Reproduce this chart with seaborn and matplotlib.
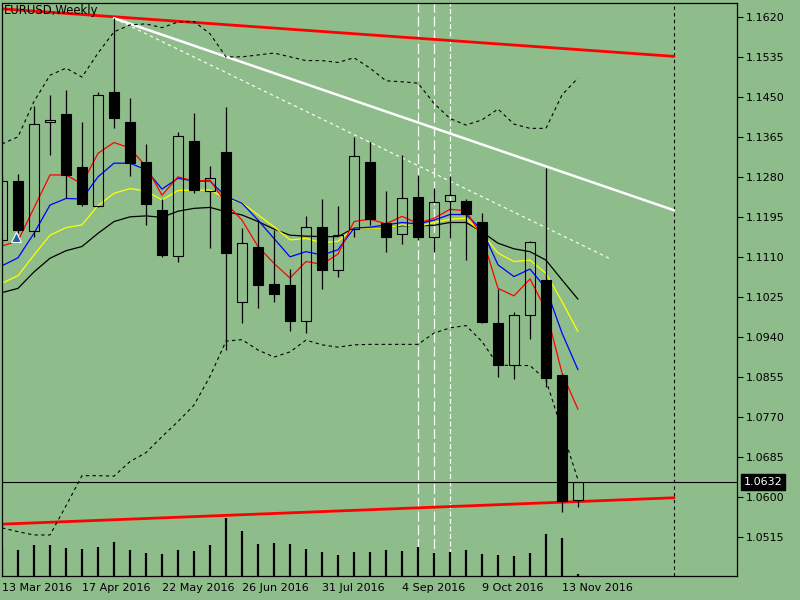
import numpy as np
import pandas as pd
import matplotlib
matplotlib.use("Agg")
import matplotlib.pyplot as plt
import seaborn as sns

BG = '#8fbc8b'

# weekly bars, EURUSD
dates = pd.date_range('2016-03-13', periods=37, freq='W-SUN')
opens = [1.1147, 1.1272, 1.1165, 1.1398, 1.1415, 1.1302, 1.1218, 1.1461, 1.1398, 1.1312,
         1.1211, 1.1113, 1.1357, 1.1251, 1.1334, 1.1014, 1.1132, 1.1053, 1.1051, 1.0974,
         1.1174, 1.1084, 1.1171, 1.1313, 1.1182, 1.1159, 1.1238, 1.1153, 1.1229, 1.1230,
         1.1185, 1.0970, 1.0881, 1.0987, 1.1062, 1.0860, 1.0594]
highs = [1.1283, 1.1287, 1.1432, 1.1455, 1.1466, 1.1398, 1.1461, 1.1618, 1.1449, 1.1350,
         1.1234, 1.1376, 1.1416, 1.1304, 1.1429, 1.1172, 1.1189, 1.1168, 1.1085, 1.1198,
         1.1234, 1.1219, 1.1366, 1.1355, 1.1251, 1.1327, 1.1284, 1.1257, 1.1282, 1.1233,
         1.1204, 1.1043, 1.0994, 1.1145, 1.1299, 1.0862, 1.0632]
lows = [1.1136, 1.1162, 1.1154, 1.1327, 1.1236, 1.1218, 1.1216, 1.1385, 1.1283, 1.1179,
        1.1111, 1.1099, 1.1246, 1.1130, 1.0913, 1.0971, 1.1003, 1.1016, 1.0954, 1.0950,
        1.1043, 1.1069, 1.1153, 1.1178, 1.1122, 1.1138, 1.1147, 1.1121, 1.1152, 1.1105,
        1.0970, 1.0856, 1.0852, 1.0937, 1.0834, 1.0569, 1.0580]
closes = [1.1272, 1.1167, 1.1393, 1.1401, 1.1284, 1.1224, 1.1454, 1.1405, 1.1310, 1.1224,
          1.1115, 1.1367, 1.1253, 1.1278, 1.1120, 1.1140, 1.1052, 1.1033, 1.0975, 1.1174,
          1.1084, 1.1158, 1.1325, 1.1192, 1.1154, 1.1235, 1.1154, 1.1227, 1.1242, 1.1201,
          1.0973, 1.0881, 1.0987, 1.1142, 1.0854, 1.0592, 1.0632]
volumes = [27000, 26000, 31000, 31000, 28000, 27000, 29000, 34000, 26000, 23000,
           22000, 26000, 25000, 31000, 58000, 45000, 32000, 33000, 32000, 27000,
           24000, 21000, 24000, 24000, 26000, 25000, 29000, 23000, 24000, 26000,
           22000, 21000, 20000, 23000, 42000, 38000, 2000]

# moving averages
ma_red = [1.1134, 1.1145, 1.1215, 1.1285, 1.1285, 1.1266, 1.1331, 1.1354, 1.1342, 1.1303,
          1.1242, 1.1281, 1.1272, 1.1274, 1.1225, 1.1189, 1.1133, 1.1097, 1.1066, 1.1101,
          1.1095, 1.1117, 1.1186, 1.1191, 1.1181, 1.1197, 1.1182, 1.1193, 1.1212, 1.1209,
          1.1154, 1.1044, 1.1028, 1.1064, 1.0998, 1.0864, 1.0787]
ma_blue = [1.1092, 1.1109, 1.1161, 1.1221, 1.1235, 1.1234, 1.1281, 1.1310, 1.1310, 1.1296,
           1.1255, 1.1278, 1.1272, 1.1272, 1.1239, 1.1225, 1.1189, 1.1150, 1.1111, 1.1122,
           1.1115, 1.1126, 1.1172, 1.1174, 1.1179, 1.1184, 1.1181, 1.1189, 1.1201, 1.1201,
           1.1168, 1.1094, 1.1069, 1.1085, 1.1044, 1.0949, 1.0871]
ma_yellow = [1.1055, 1.1071, 1.1115, 1.1157, 1.1173, 1.1179, 1.1220, 1.1246, 1.1256, 1.1251,
             1.1232, 1.1252, 1.1253, 1.1253, 1.1235, 1.1226, 1.1200, 1.1175, 1.1147, 1.1150,
             1.1141, 1.1144, 1.1172, 1.1172, 1.1172, 1.1179, 1.1175, 1.1184, 1.1191, 1.1193,
             1.1161, 1.1119, 1.1101, 1.1104, 1.1076, 1.1016, 1.0952]
ma_black = [1.1035, 1.1044, 1.1079, 1.1108, 1.1124, 1.1133, 1.1161, 1.1186, 1.1196, 1.1198,
            1.1195, 1.1208, 1.1214, 1.1216, 1.1207, 1.1200, 1.1186, 1.1170, 1.1157, 1.1155,
            1.1154, 1.1154, 1.1172, 1.1172, 1.1174, 1.1177, 1.1177, 1.1178, 1.1184, 1.1184,
            1.1164, 1.1140, 1.1128, 1.1122, 1.1104, 1.1062, 1.1021]

# bollinger bands
bb_upper = [1.1351, 1.1366, 1.1441, 1.1497, 1.1512, 1.1493, 1.1544, 1.1589, 1.1604, 1.1606,
            1.1598, 1.1610, 1.1611, 1.1585, 1.1536, 1.1536, 1.1540, 1.1544, 1.1536, 1.1528,
            1.1528, 1.1524, 1.1534, 1.1512, 1.1485, 1.1483, 1.1480, 1.1437, 1.1405, 1.1391,
            1.1402, 1.1425, 1.1393, 1.1384, 1.1384, 1.1455, 1.1491]
bb_lower = [1.0535, 1.0527, 1.0520, 1.0520, 1.0582, 1.0646, 1.0646, 1.0645, 1.0676, 1.0695,
            1.0729, 1.0761, 1.0796, 1.0857, 1.0932, 1.0935, 1.0913, 1.0898, 1.0909, 1.0934,
            1.0924, 1.0919, 1.0924, 1.0925, 1.0925, 1.0925, 1.0925, 1.0949, 1.0960, 1.0965,
            1.0931, 1.0881, 1.0880, 1.0880, 1.0849, 1.0743, 1.0637]

# objects on the chart (bar index, price)
red_top = ([0, 42], [1.1638, 1.1537])
red_bottom = ([0, 42], [1.0543, 1.0599])
white_trend = ([7, 42], [1.1618, 1.1210])
white_dashed = ([7, 38], [1.1618, 1.1107])
vlines_long = [26, 27]
vline_short = 28
shift_line = 42
last_price = 1.0632
price_ticks = [1.0515, 1.0600, 1.0685, 1.0770, 1.0855, 1.0940, 1.1025, 1.1110,
               1.1195, 1.1280, 1.1365, 1.1450, 1.1535, 1.1620]
date_ticks = [0, 5, 10, 15, 20, 25, 30, 35]

sns.set_style("white")
plt.rcParams['font.family'] = ['DejaVu Sans']
plt.rcParams['font.size'] = 8

fig = plt.figure(figsize=(8, 6), dpi=100, facecolor=BG)
ax = fig.add_axes([2 / 800, 24 / 600, 735 / 800, 573 / 600])
ax.set_facecolor(BG)

x = np.arange(len(dates))
o = np.array(opens); c = np.array(closes)
h = np.array(highs); l = np.array(lows)

# background objects
for v in vlines_long:
    ax.axvline(v, color='white', lw=0.9, ls=(0, (8, 3)), zorder=1)
ax.axvline(vline_short, color='white', lw=0.9, ls=(0, (4, 2)), zorder=1)
ax.axvline(shift_line, color='black', lw=0.8, ls=(0, (3, 3)), zorder=1)
ax.axhline(last_price, color='black', lw=0.8, zorder=1)
ax.plot(*red_top, color='red', lw=2.0, zorder=1)
ax.plot(*red_bottom, color='red', lw=2.0, zorder=1)
ax.plot(*white_trend, color='white', lw=1.8, zorder=1)
ax.plot(*white_dashed, color='white', lw=0.8, ls=(0, (3, 3)), zorder=1)

# indicators
ind = pd.DataFrame({'bar': x, 'red': ma_red, 'blue': ma_blue, 'yellow': ma_yellow,
                    'black': ma_black, 'up': bb_upper, 'lo': bb_lower})
for col, colr in [('black', 'black'), ('yellow', '#ffff00'), ('blue', '#0000ff'), ('red', '#ff0000')]:
    sns.lineplot(data=ind, x='bar', y=col, color=colr, lw=0.9, ax=ax, zorder=2)
for col in ['up', 'lo']:
    sns.lineplot(data=ind, x='bar', y=col, color='black', lw=0.8, linestyle=(0, (3, 3)), ax=ax, zorder=2)

# candles
top = np.maximum(o, c)
bot = np.minimum(o, c)
ax.vlines(x, top, h, color='black', lw=0.9, zorder=3)
ax.vlines(x, l, bot, color='black', lw=0.9, zorder=3)
bear = c < o
body = np.maximum(top - bot, 0.00004)
ax.bar(x[bear], body[bear], bottom=bot[bear], width=0.6, color='black',
       edgecolor='black', lw=0.8, zorder=3)
ax.bar(x[~bear], body[~bear], bottom=bot[~bear], width=0.6, facecolor='none',
       edgecolor='black', lw=0.8, zorder=3)

# trade arrow
ax.plot([0.85], [1.1153], marker='^', ms=7, mfc='#1f5fa8', mec='white', mew=0.8,
        ls='none', zorder=4)

ax.set_xlim(0, 735 / 16)
ax.set_ylim(1.04328, 1.16504)
ax.set_xlabel('')
ax.set_ylabel('')

# volumes along the bottom
ax2 = ax.twinx()
ax2.set_ylim(0, 573000)
ax2.vlines(x, 0, volumes, color='black', lw=1.6)
ax2.axis('off')

ax.yaxis.tick_right()
ax.set_yticks(price_ticks)
ax.set_yticklabels([f'{p:.4f}' for p in price_ticks])
ax.set_xticks(date_ticks)
ax.set_xticklabels([dates[i].strftime('%d %b %Y').lstrip('0') for i in date_ticks], ha='left')
ax.tick_params(axis='y', direction='out', length=4, width=0.8, pad=2, labelsize=8, colors='black')
ax.tick_params(axis='x', direction='out', length=4, width=0.8, pad=1, labelsize=8, colors='black')
for s in ax.spines.values():
    s.set_color('black')
    s.set_linewidth(0.9)

ax.text(0.003, 0.998, 'EURUSD,Weekly', transform=ax.transAxes, ha='left', va='top',
        fontsize=8.4, color='black', zorder=5)
ax.text(1.009, last_price, f'{last_price:.4f}', transform=ax.get_yaxis_transform(),
        ha='left', va='center', fontsize=8, color='white', zorder=5,
        bbox=dict(boxstyle='square,pad=0.25', facecolor='black', edgecolor='black'))

fig.savefig('out.png', dpi=100, facecolor=BG)
